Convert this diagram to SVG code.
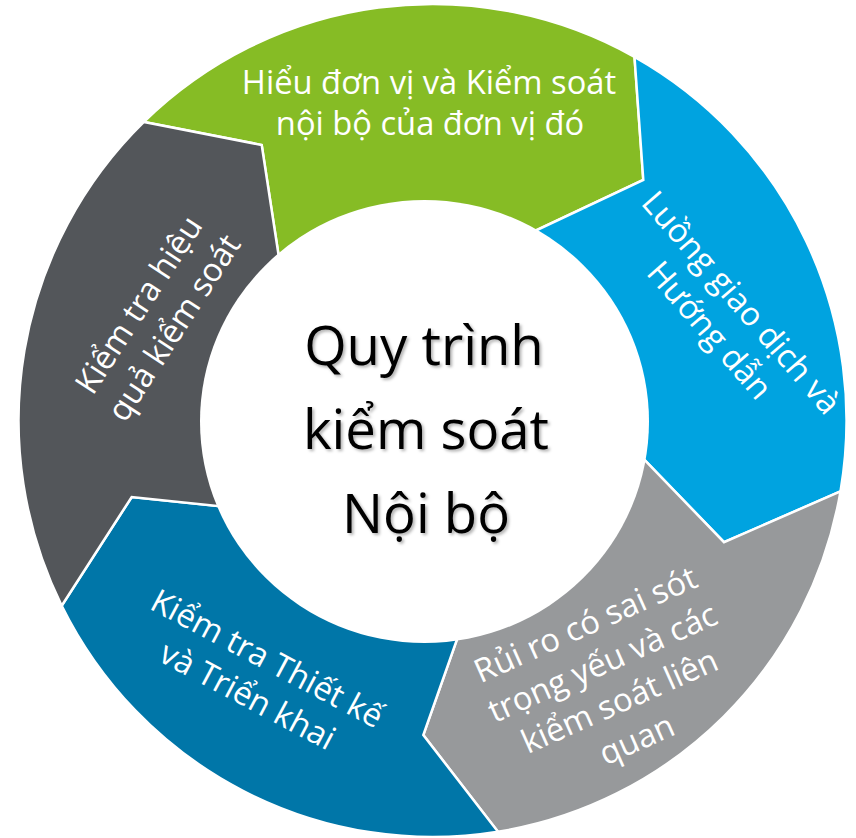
<svg xmlns="http://www.w3.org/2000/svg" width="856" height="838" viewBox="0 0 856 838">
  <defs>
    <style>
      .seg { stroke: #ffffff; stroke-width: 2.5; stroke-linejoin: miter; stroke-miterlimit: 10; }
      .lbl { font-family: "Open Sans", "Noto Sans", "Liberation Sans", sans-serif; font-size: 32.7px; fill: #ffffff; text-anchor: middle; }
      .ctr { font-family: "Open Sans", "Noto Sans", "Liberation Sans", sans-serif; font-size: 54.5px; fill: #000000; text-anchor: middle; }
    </style>
    <filter id="shadow" x="-10%" y="-10%" width="120%" height="130%">
      <feDropShadow dx="2" dy="2" stdDeviation="1.5" flood-color="#000000" flood-opacity="0.3"/>
    </filter>
  </defs>
  <rect x="0" y="0" width="856" height="838" fill="#ffffff"/>

  <g id="seg-green">
    <path class="seg" fill="#86BC25" d="M143.9,121.9 A414,416.5 0 0 1 634.5,56.9 L643.3,180 L515.7,240 A200,200 0 0 0 284.1,291.2 L261.7,145 Z"/>
    <text class="lbl"><tspan x="429" y="93.5">Hiểu đơn vị và Kiểm soát</tspan><tspan x="430" y="135">nội bộ của đơn vị đó</tspan></text>
  </g>

  <g id="seg-blue">
    <path class="seg" fill="#00A3E0" d="M634.5,56.9 A414,416.5 0 0 1 840.5,491.4 L724,542.2 L627.4,442.2 A200,200 0 0 0 515.7,240 L643.3,180 Z"/>
    <text class="lbl" transform="translate(732.7,310.1) rotate(49)"><tspan x="0" y="0">Luồng giao dịch và</tspan><tspan x="0" y="42">Hướng dẫn</tspan></text>
  </g>

  <g id="seg-gray">
    <path class="seg" fill="#97999B" d="M840.5,491.4 A414,416.5 0 0 1 498,831.8 L423.3,735 L464.2,618.8 A200,200 0 0 0 627.4,442.2 L724,542.2 Z"/>
    <text class="lbl" transform="translate(615.7,692.2) rotate(-24)"><tspan x="0" y="-63">Rủi ro có sai sót</tspan><tspan x="0" y="-21">trọng yếu và các</tspan><tspan x="0" y="21">kiểm soát liên</tspan><tspan x="0" y="63">quan</tspan></text>
  </g>

  <g id="seg-darkblue">
    <path class="seg" fill="#0076A8" d="M498,831.8 A414,416.5 0 0 1 61.7,605.7 L131.7,497 L245.9,508.9 A200,200 0 0 0 464.2,618.8 L423.3,735 Z"/>
    <text class="lbl" transform="translate(252.1,687.1) rotate(28)"><tspan x="0" y="-21">Kiểm tra Thiết kế</tspan><tspan x="0" y="21">và Triển khai</tspan></text>
  </g>

  <g id="seg-darkgray">
    <path class="seg" fill="#53565A" d="M61.7,605.7 A414,416.5 0 0 1 143.9,121.9 L261.7,145 L284.1,291.2 A200,200 0 0 0 245.9,508.9 L131.7,497 Z"/>
    <text class="lbl" transform="translate(165.8,322.4) rotate(-57)"><tspan x="0" y="-21">Kiểm tra hiệu</tspan><tspan x="0" y="21">quả kiểm soát</tspan></text>
  </g>

  <g id="center">
    <ellipse cx="424.5" cy="421.5" rx="224.5" ry="221.5" fill="#ffffff"/>
    <text class="ctr" filter="url(#shadow)"><tspan x="424" y="365">Quy trình</tspan><tspan x="426" y="449">kiểm soát</tspan><tspan x="426" y="533">Nội bộ</tspan></text>
  </g>
</svg>
